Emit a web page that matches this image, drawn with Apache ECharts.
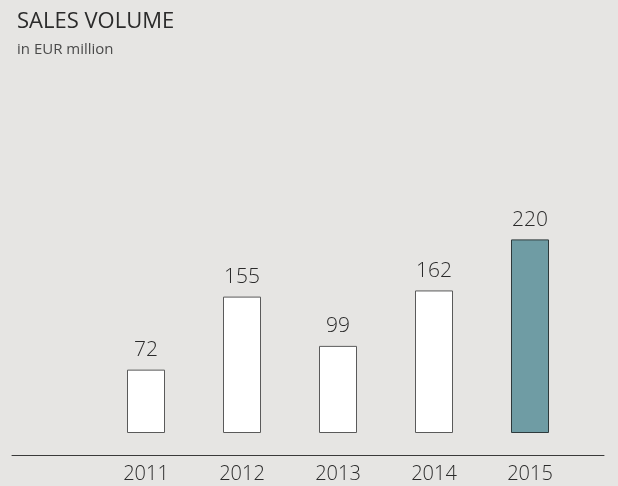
<!DOCTYPE html>
<html>
<head>
<meta charset="utf-8">
<script src="https://cdn.jsdelivr.net/npm/echarts@6/dist/echarts.min.js"></script>
<style>
  html, body { margin: 0; padding: 0; background: #e6e5e3; }
  #chart { width: 618px; height: 486px; }
</style>
</head>
<body>
<div id="chart"></div>
<script>
// data
const years = ["2011", "2012", "2013", "2014", "2015"];
const sales = [72, 155, 99, 162, 220];

const chart = echarts.init(document.getElementById("chart"));
const font = "'Open Sans', sans-serif";

const option = {
  backgroundColor: "#e6e5e3",
  animation: false,
  title: {
    text: "SALES VOLUME",
    subtext: "in EUR million",
    left: 12,
    top: 6,
    itemGap: 9,
    textStyle: { fontFamily: font, fontSize: 22, fontWeight: "normal", color: "#2b2b2b" },
    subtextStyle: { fontFamily: font, fontSize: 15, color: "#4a4a4a" }
  },
  grid: [
    { left: 98, right: 40, top: 213, bottom: 31 }, // bars
    { left: 12, right: 14, top: 213, bottom: 31 }  // long base line
  ],
  xAxis: [
    {
      type: "category",
      gridIndex: 0,
      data: years,
      axisLine: { show: false },
      axisTick: { show: false },
      axisLabel: { fontFamily: font, fontSize: 20, fontWeight: 300, color: "#2b2b2b", margin: 9 }
    },
    {
      type: "value",
      gridIndex: 1,
      min: 0,
      max: 1,
      axisLine: { show: true, onZero: false, lineStyle: { color: "#3a3a3a", width: 1 } },
      axisTick: { show: false },
      axisLabel: { show: false },
      splitLine: { show: false }
    }
  ],
  yAxis: [
    { type: "value", gridIndex: 0, min: -25, max: 250, show: false },
    { type: "value", gridIndex: 1, min: 0, max: 1, show: false }
  ],
  series: [
    {
      type: "bar",
      xAxisIndex: 0,
      yAxisIndex: 0,
      data: sales.map((v, i) => ({
        value: v,
        itemStyle: i === sales.length - 1
          ? { color: "#6f9ca4", borderColor: "#2e3a3c", borderWidth: 1 }
          : { color: "#ffffff", borderColor: "#5a5a5a", borderWidth: 1 }
      })),
      barWidth: 38,
      label: {
        show: true,
        position: "top",
        distance: 9,
        fontFamily: font,
        fontSize: 21,
        fontWeight: 300,
        color: "#2b2b2b"
      }
    }
  ]
};
chart.setOption(option);
</script>
</body>
</html>
